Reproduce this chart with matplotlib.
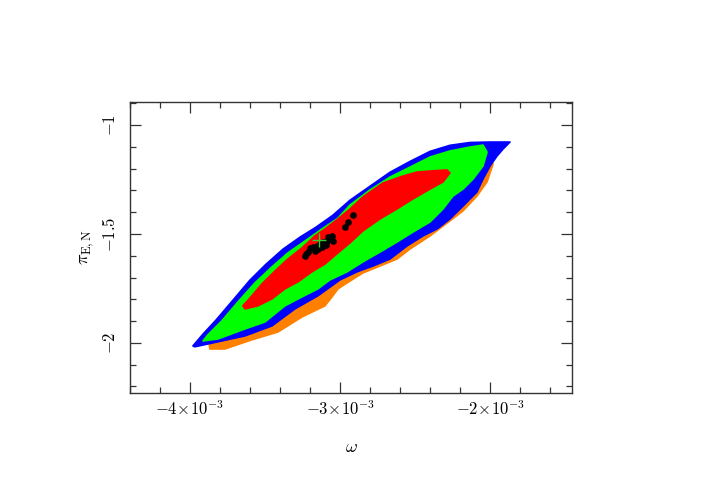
import numpy as np
import matplotlib
matplotlib.use("Agg")
import matplotlib.pyplot as plt
from matplotlib.ticker import MultipleLocator, FixedLocator

plt.rcParams['mathtext.fontset'] = 'cm'
plt.rcParams['font.family'] = 'serif'
plt.rcParams['font.serif'] = ['DejaVu Serif']

# Envelopes of the MCMC chain levels (omega in units of 1e-3)
# orange: outermost level (only peeks out below the blue one)
orange_w = np.array([-3.88, -3.787, -3.68, -3.567, -3.453, -3.347, -3.233, -3.12, -3.013, -2.933,
                     -2.80, -2.667, -2.533, -2.40, -2.267, -2.133, -2.047,
                     -1.98, -2.02, -2.087, -2.18, -2.267, -2.40, -2.533, -2.62, -2.733, -2.847,
                     -2.953, -3.013, -3.053, -3.10, -3.253, -3.413, -3.587, -3.767, -3.867]) * 1e-3
orange_p = np.array([-1.963, -1.899, -1.812, -1.725, -1.651, -1.587, -1.532, -1.477, -1.427, -1.367,
                     -1.298, -1.239, -1.193, -1.147, -1.119, -1.101, -1.092,
                     -1.179, -1.261, -1.326, -1.394, -1.440, -1.509, -1.569, -1.615, -1.647, -1.679,
                     -1.725, -1.752, -1.789, -1.830, -1.881, -1.950, -1.986, -2.028, -2.028])

# blue
blue_w = np.array([-3.98, -3.913, -3.827, -3.713, -3.60, -3.493, -3.38, -3.267, -3.16, -3.047,
                   -2.933, -2.80, -2.667, -2.533, -2.40, -2.267, -2.133, -2.00, -1.867, -1.913,
                   -1.953, -2.00, -2.047, -2.087, -2.18, -2.267, -2.353, -2.447, -2.553, -2.667,
                   -2.78, -2.887, -3.00, -3.147, -3.30, -3.453, -3.633, -3.813, -3.967]) * 1e-3
blue_p = np.array([-2.014, -1.960, -1.896, -1.804, -1.712, -1.639, -1.570, -1.515, -1.469, -1.414,
                   -1.345, -1.281, -1.217, -1.167, -1.121, -1.093, -1.080, -1.078, -1.078, -1.110,
                   -1.142, -1.188, -1.248, -1.307, -1.372, -1.431, -1.477, -1.509, -1.555, -1.615,
                   -1.647, -1.674, -1.711, -1.784, -1.844, -1.922, -1.968, -1.995, -2.018])

# green
green_w = np.array([-3.913, -3.88, -3.787, -3.68, -3.567, -3.453, -3.347, -3.233, -3.12, -3.013,
                    -2.933, -2.80, -2.667, -2.533, -2.40, -2.267, -2.133, -2.047, -2.02, -2.047,
                    -2.113, -2.18, -2.247, -2.313, -2.40, -2.513, -2.62, -2.733, -2.847, -2.953,
                    -3.067, -3.147, -3.253, -3.367, -3.50, -3.633, -3.813]) * 1e-3
green_p = np.array([-1.991, -1.963, -1.899, -1.812, -1.725, -1.651, -1.587, -1.532, -1.477, -1.427,
                    -1.367, -1.298, -1.239, -1.193, -1.147, -1.119, -1.101, -1.092, -1.124, -1.188,
                    -1.248, -1.294, -1.326, -1.385, -1.445, -1.491, -1.537, -1.583, -1.628, -1.674,
                    -1.711, -1.752, -1.789, -1.830, -1.904, -1.936, -1.982])

# red
red_w = np.array([-3.647, -3.587, -3.52, -3.433, -3.347, -3.253, -3.167, -3.10, -3.013, -2.933,
                  -2.847, -2.713, -2.58, -2.487, -2.40, -2.287, -2.267, -2.313, -2.40, -2.513,
                  -2.62, -2.733, -2.847, -2.933, -3.013, -3.10, -3.187, -3.28, -3.367, -3.453,
                  -3.547, -3.633]) * 1e-3
red_p = np.array([-1.830, -1.784, -1.729, -1.670, -1.615, -1.564, -1.509, -1.477, -1.431, -1.385,
                  -1.330, -1.266, -1.234, -1.216, -1.211, -1.206, -1.220, -1.261, -1.294, -1.339,
                  -1.385, -1.431, -1.486, -1.541, -1.587, -1.638, -1.674, -1.720, -1.752, -1.798,
                  -1.830, -1.844])

# black: best chain links
black_w = np.array([-3.233, -3.213, -3.227, -3.20, -3.18, -3.153, -3.133, -3.113, -3.087, -3.08,
                    -3.053, -3.047, -3.067, -2.967, -2.947, -2.913, -3.167, -3.12, -3.093, -3.147]) * 1e-3
black_p = np.array([-1.601, -1.583, -1.592, -1.564, -1.560, -1.555, -1.546, -1.537, -1.532, -1.514,
                    -1.509, -1.532, -1.523, -1.468, -1.445, -1.413, -1.578, -1.560, -1.550, -1.569])

best_w = -3.14e-3
best_p = -1.528

xtick_vals = [-4e-3, -3e-3, -2e-3]
xtick_labels = [r'$-4\!\times\!10^{-3}$', r'$-3\!\times\!10^{-3}$', r'$-2\!\times\!10^{-3}$']
ytick_vals = [-2, -1.5, -1]
ytick_labels = [r'$-2$', r'$-1.5$', r'$-1$']

fig = plt.figure(figsize=(7.02, 4.96), dpi=100)
ax = fig.add_axes([0.185, 0.2077, 0.63, 0.5863])

levels = [(orange_w, orange_p, '#ff8000'),
          (blue_w, blue_p, '#0000ff'),
          (green_w, green_p, '#00ff00'),
          (red_w, red_p, '#ff0000')]
for z, (w, p, c) in enumerate(levels):
    ax.fill(w, p, facecolor=c, edgecolor=c, lw=1.2, joinstyle='round', zorder=z + 1)
ax.plot(black_w, black_p, 'o', color='black', ms=3.8, zorder=6)
ax.plot(best_w, best_p, '+', color='#33cc33', ms=10, mew=1.0, zorder=7)

ax.set_xlim(-4.4e-3, -1.453e-3)
ax.set_ylim(-2.23, -0.895)

ax.xaxis.set_major_locator(FixedLocator(xtick_vals))
ax.xaxis.set_minor_locator(MultipleLocator(0.2e-3))
ax.set_xticklabels(xtick_labels)
ax.yaxis.set_major_locator(FixedLocator(ytick_vals))
ax.yaxis.set_minor_locator(MultipleLocator(0.1))
ax.set_yticklabels(ytick_labels, rotation=90, va='center')

ax.tick_params(which='both', direction='in', top=True, right=True, color='#333333', width=0.9)
ax.tick_params(which='major', length=8)
ax.tick_params(which='minor', length=4)
ax.tick_params(axis='x', labelsize=12, pad=5)
ax.tick_params(axis='y', labelsize=12, pad=8)
for s in ax.spines.values():
    s.set_color('#333333')
    s.set_linewidth(1.0)

ax.set_xlabel(r'$\omega$', fontsize=13, labelpad=14)
ax.set_ylabel(r'$\pi_{\rm E,N}$', fontsize=13, labelpad=4)

fig.savefig('out.png', dpi=100)
